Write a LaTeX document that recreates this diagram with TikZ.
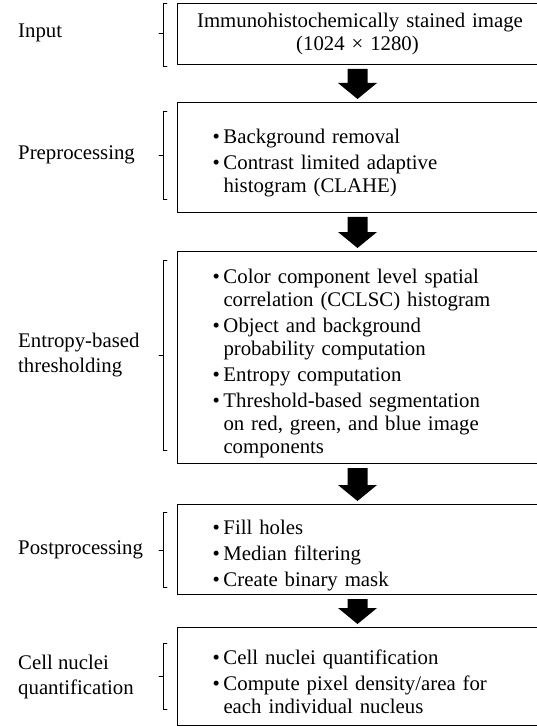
\documentclass[tikz,border=0pt]{standalone}
\usepackage{fontspec}
\setmainfont{Liberation Serif}
\usetikzlibrary{calc,positioning}
\tikzset{
  stagebox/.style={draw, line width=1pt, anchor=north west, text width=300pt,
    inner xsep=30pt, inner ysep=0pt, align=left,
    font=\fontsize{20.8}{23}\selectfont,
    execute at begin node={\setlength{\parskip}{3pt}\hspace*{5pt}}},
  stagelabel/.style={anchor=west, align=left, inner sep=0pt,
    font=\fontsize{20.8}{25}\selectfont},
  brk/.style={line width=0.8pt}
}
% bullet item with hanging indent
\newcommand{\pitem}[1]{\par\hangindent=16pt\hangafter=1\noindent
  \hspace*{5pt}\makebox[11pt][l]{\textbullet}#1\par}
% block arrow between two boxes
\newcommand{\fatarrow}[2]{%
  \fill let \p1=(#1.south), \p2=(#2.north) in
    (\x1-10pt,\y1-4pt) -- (\x1+10pt,\y1-4pt) -- (\x1+10pt,\y2+19pt)
    -- (\x1+19.5pt,\y2+19pt) -- (\x1,\y2+3pt) -- (\x1-19.5pt,\y2+19pt)
    -- (\x1-10pt,\y2+19pt) -- cycle;}
\begin{document}
\begin{tikzpicture}[x=1pt,y=-1pt,line cap=round]
\useasboundingbox (0,0) rectangle (536,727);

    % boxes
    \node[stagebox, text width=340pt, inner xsep=10pt, align=center,
      execute at begin node={}, minimum height=61pt] (in) at (177,3)
      {Immunohistochemically stained image\\(1024 × 1280)};
    \node[stagebox, minimum height=110pt] (pre) at (177,102)
      {\pitem{Background removal}
       \pitem{Contrast limited adaptive\newline histogram (CLAHE)}};
    \node[stagebox, minimum height=212pt] (ent) at (177,251)
      {\pitem{Color component level spatial\newline correlation (CCLSC) histogram}
       \pitem{Object and background\newline probability computation}
       \pitem{Entropy computation}
       \pitem{Threshold-based segmentation\newline on red, green, and blue image\newline components}};
    \node[stagebox, minimum height=90pt] (post) at (177,504)
      {\pitem{Fill holes}
       \pitem{Median filtering}
       \pitem{Create binary mask}};
    \node[stagebox, minimum height=98pt] (cell) at (177,627)
      {\pitem{Cell nuclei quantification}
       \pitem{Compute pixel density/area for\newline each individual nucleus}};

    % arrows
    \fatarrow{in}{pre}
    \fatarrow{pre}{ent}
    \fatarrow{ent}{post}
    \fatarrow{post}{cell}

    % brackets
    \draw[brk] (167,3) -- (163,3) -- (163,66) -- (167,66) (163,33) -- (159,33);
    \draw[brk] (167,111) -- (163,111) -- (163,199) -- (167,199) (163,155) -- (159,155);
    \draw[brk] (167,260) -- (163,260) -- (163,450) -- (167,450) (163,355) -- (159,355);
    \draw[brk] (167,512) -- (163,512) -- (163,587) -- (167,587) (163,550) -- (159,550);
    \draw[brk] (167,643) -- (163,643) -- (163,709) -- (167,709) (163,676) -- (159,676);

    % labels
    \node[stagelabel] (lin) at (18,33) {Input};
    \node[stagelabel] (lpre) at (18,155) {Preprocessing};
    \node[stagelabel] (lent) at (18,355) {Entropy-based\\thresholding};
    \node[stagelabel] (lpost) at (18,550) {Postprocessing};
    \node[stagelabel] (lcell) at (18,677) {Cell nuclei\\quantification};

\end{tikzpicture}
\end{document}
